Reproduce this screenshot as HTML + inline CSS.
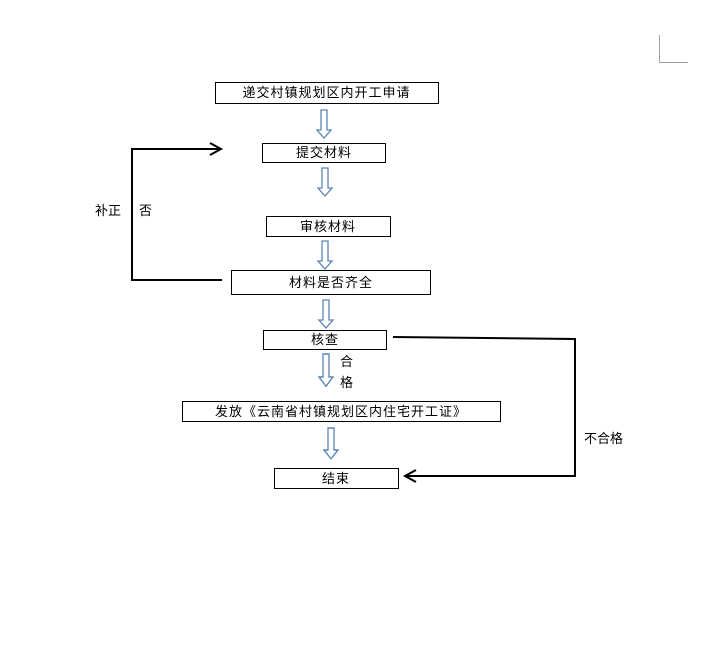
<!DOCTYPE html>
<html><head><meta charset="utf-8"><style>
body{margin:0;background:#fff}
svg text{font-family:"Liberation Sans","Noto Sans CJK SC",sans-serif;font-size:13px;fill:#000}
</style></head><body>
<svg width="713" height="655" viewBox="0 0 713 655" xmlns="http://www.w3.org/2000/svg">
<defs>
<g id="ar"><path d="M-3,0 H3 V20 H7 L0,28 L-7,20 H-3 Z" fill="#fff" stroke="#5b84b6" stroke-width="1.3"/></g>
</defs>
<path d="M659.5,35 V62.5 H688" fill="none" stroke="#a0a0a0" stroke-width="1"/>
<g fill="#fff" stroke="#000" stroke-width="1">
<rect x="215.5" y="82.5" width="223" height="21"/>
<rect x="262.5" y="143.5" width="123" height="19"/>
<rect x="266.5" y="216.5" width="124" height="20"/>
<rect x="231.5" y="270.5" width="199" height="24"/>
<rect x="263.5" y="330.5" width="123" height="19"/>
<rect x="182.5" y="401.5" width="318" height="20"/>
<rect x="274.5" y="468.5" width="124" height="20"/>
</g>
<use href="#ar" x="324" y="110"/>
<use href="#ar" x="325" y="168"/>
<use href="#ar" x="325" y="241"/>
<use href="#ar" x="326" y="300"/>
<use href="#ar" x="326" y="354" transform="translate(326,354) scale(1,1.15) translate(-326,-354)"/>
<use href="#ar" x="331" y="428" transform="translate(331,428) scale(1,1.1) translate(-331,-428)"/>
<g fill="none" stroke="#000" stroke-width="2">
<path d="M222,280 H132 V149 H220"/>
<path d="M210,143 L221,149 L210,155"/>
<path d="M393,337 L575,339 V476 H406"/>
<path d="M416,470 L405,476 L416,482"/>
</g>
<text x="326.5" y="97" text-anchor="middle" letter-spacing="1">递交村镇规划区内开工申请</text>
<text x="324" y="157" text-anchor="middle" letter-spacing="1">提交材料</text>
<text x="328" y="231" text-anchor="middle" letter-spacing="1">审核材料</text>
<text x="331" y="287" text-anchor="middle" letter-spacing="1">材料是否齐全</text>
<text x="325" y="344" text-anchor="middle" letter-spacing="1">核查</text>
<text x="341" y="416" text-anchor="middle" letter-spacing="1">发放《云南省村镇规划区内住宅开工证》</text>
<text x="336" y="483" text-anchor="middle" letter-spacing="1">结束</text>
<text x="95" y="215">补正</text>
<text x="139" y="215">否</text>
<text x="340" y="366">合</text>
<text x="340" y="387">格</text>
<text x="584" y="443">不合格</text>
</svg>
</body></html>
